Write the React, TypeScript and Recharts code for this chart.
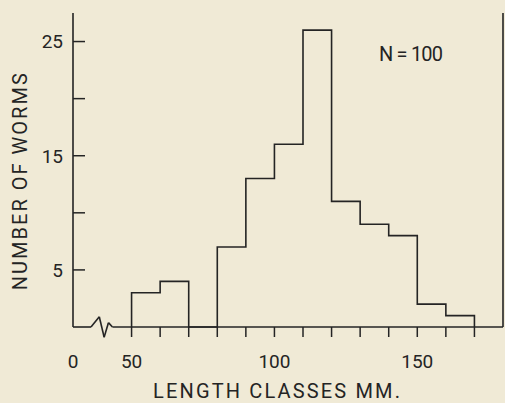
import React from 'react';
import { ComposedChart, Line, XAxis, YAxis, ReferenceLine } from 'recharts';

// Histogram: number of worms per 10 mm length class
const classStarts = [50, 60, 70, 80, 90, 100, 110, 120, 130, 140, 150, 160];
const counts = [3, 4, 0, 7, 13, 16, 26, 11, 9, 8, 2, 1];
const classEnd = 170;

// Axis ticks
const yTicks = [5, 10, 15, 20, 25];
const yLabelTicks = [5, 15, 25];
const xOrigin = 29.5; // broken axis: "0" is drawn at the axis origin
const xTicks = [xOrigin, 50, 60, 70, 80, 90, 100, 110, 120, 130, 140, 150, 160, 170];
const xTickLabels = ['0', '50', '', '', '', '', '100', '', '', '', '', '150', '', ''];

// Baseline with axis break (zig-zag), in data units
const breakX = [xOrigin, 35.8, 38.7, 40.4, 41.9, 43.3, 180];
const breakY = [0, 0, 0.9, -0.9, 0.38, 0, 0];

const INK = '#242424';
const BG = '#f0ead6';
const FONT = 'Roboto, "DejaVu Sans", sans-serif';

const stepData = [
  { x: classStarts[0], y: 0 },
  ...classStarts.map((s, i) => ({ x: s, y: counts[i] })),
  { x: classEnd, y: 0 },
];
const breakSegments = breakX.slice(1).map((x, i) => [
  { x: breakX[i], y: breakY[i] },
  { x, y: breakY[i + 1] },
]);

const LeftTick = (props: any) => {
  const { x, y, payload } = props;
  const v = payload.value;
  return (
    <g>
      <line x1={x} x2={x + 12} y1={y} y2={y} stroke={INK} strokeWidth={1.5} />
      {yLabelTicks.includes(v) && (
        <text x={x - 10} y={y} dy="0.36em" textAnchor="end" fontFamily={FONT} fontSize={19} fill={INK}>
          {v}
        </text>
      )}
    </g>
  );
};

const RightTick = (props: any) => {
  const { x, y } = props;
  return <line x1={x} x2={x - 12} y1={y} y2={y} stroke={INK} strokeWidth={1.5} />;
};

const BottomTick = (props: any) => {
  const { x, y, payload } = props;
  const v = payload.value;
  const label = xTickLabels[xTicks.indexOf(v)] ?? '';
  return (
    <g>
      {v !== xOrigin && <line x1={x} x2={x} y1={y} y2={y + 10} stroke={INK} strokeWidth={1.5} />}
      {label && (
        <text x={x} y={y + 34} dy="0.36em" textAnchor="middle" fontFamily={FONT} fontSize={19} fill={INK}>
          {label}
        </text>
      )}
    </g>
  );
};

export default function App() {
  return (
    <div style={{ position: 'fixed', left: 0, top: 0, width: 505, height: 403, background: BG }}>
      <ComposedChart width={505} height={403} margin={{ top: 13, right: 1, bottom: 0, left: 0 }}>
        <XAxis
          type="number"
          dataKey="x"
          domain={[xOrigin, 180]}
          ticks={xTicks}
          interval={0}
          height={76}
          axisLine={false}
          tickLine={false}
          tickSize={0}
          tickMargin={0}
          tick={<BottomTick />}
        />
        <YAxis
          yAxisId="l"
          type="number"
          domain={[0, 27.5]}
          ticks={yTicks}
          interval={0}
          width={73}
          axisLine={{ stroke: INK, strokeWidth: 1.6 }}
          tickLine={false}
          tickSize={0}
          tickMargin={0}
          tick={<LeftTick />}
        />
        <YAxis
          yAxisId="r"
          orientation="right"
          type="number"
          domain={[0, 27.5]}
          ticks={yTicks}
          interval={0}
          width={1}
          axisLine={{ stroke: INK, strokeWidth: 1.6 }}
          tickLine={false}
          tickSize={0}
          tickMargin={0}
          tick={<RightTick />}
        />
        {breakSegments.map((seg, i) => (
          <ReferenceLine
            key={i}
            yAxisId="l"
            segment={seg}
            ifOverflow="visible"
            stroke={INK}
            strokeWidth={1.6}
          />
        ))}
        <Line
          yAxisId="l"
          data={stepData}
          dataKey="y"
          type="stepAfter"
          stroke={INK}
          strokeWidth={1.6}
          dot={false}
          activeDot={false}
          isAnimationActive={false}
        />
      </ComposedChart>
      <svg
        width={505}
        height={403}
        style={{ position: 'absolute', left: 0, top: 0, pointerEvents: 'none' }}
      >
        <text
          x={0}
          y={0}
          transform="translate(26.5 181.7) rotate(-90)"
          textAnchor="middle"
          textLength={217}
          lengthAdjust="spacing"
          fontFamily={FONT}
          fontSize={20}
          fill={INK}
        >
          NUMBER OF WORMS
        </text>
        <text
          x={276.5}
          y={398.3}
          textAnchor="middle"
          textLength={247}
          lengthAdjust="spacing"
          fontFamily={FONT}
          fontSize={20}
          fill={INK}
        >
          LENGTH CLASSES MM.
        </text>
        <text x={379} y={60.5} textLength={64} lengthAdjust="spacing" fontFamily={FONT} fontSize={20} fill={INK}>
          N = 100
        </text>
      </svg>
    </div>
  );
}
